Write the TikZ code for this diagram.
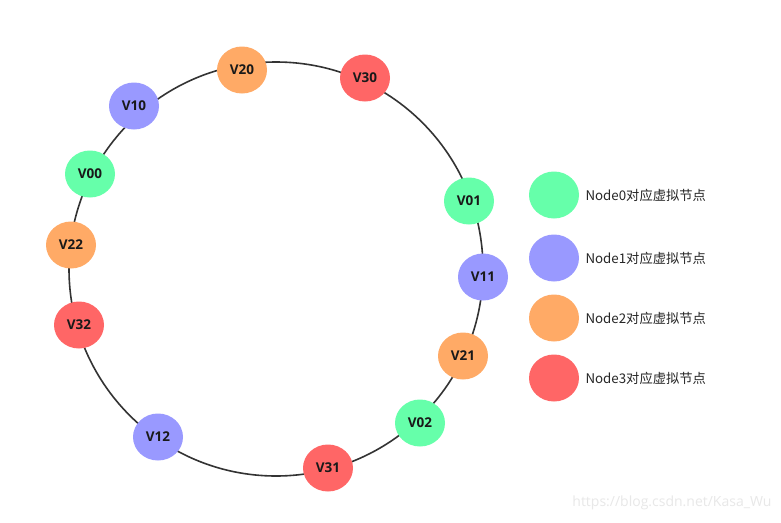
\documentclass[tikz,border=0pt]{standalone}
\usepackage{fontspec}
\setmainfont{Open Sans}
\newfontfamily\cjk{Noto Sans CJK SC}
\usepackage{tikz}
\usetikzlibrary{shapes.geometric}
\definecolor{VGreen}{RGB}{102,255,170}
\definecolor{VPurple}{RGB}{153,153,255}
\definecolor{VOrange}{RGB}{255,170,102}
\definecolor{VRed}{RGB}{255,102,102}
\definecolor{RingGray}{RGB}{51,51,51}
\definecolor{MarkGray}{RGB}{232,232,232}

\tikzset{
  vnode/.style={ellipse,minimum width=50pt,minimum height=47pt,inner sep=0pt,
    font=\fontsize{13.5}{13.5}\selectfont\bfseries,text=black!90},
  legtext/.style={anchor=west,font=\cjk\fontsize{13.3}{13.3}\selectfont,text=black!85}
}

\begin{document}
\begin{tikzpicture}[x=1pt,y=-1pt]
  \useasboundingbox (0,0) rectangle (781,522);
  \fill[white] (0,0) rectangle (781,522);

  % hash ring
  \coordinate (ring) at (276,269);
  \draw[RingGray,line width=1.6pt] (ring) circle[radius=207];

  % virtual nodes on the ring
  \foreach \x/\y/\nm/\col in {
    242/70/V20/VOrange,
    365/78/V30/VRed,
    134/106/V10/VPurple,
    90/174/V00/VGreen,
    71/245/V22/VOrange,
    79/325/V32/VRed,
    158/437/V12/VPurple,
    328/468/V31/VRed,
    420/423/V02/VGreen,
    463/356/V21/VOrange,
    483/277/V11/VPurple,
    469/201/V01/VGreen}{
    \node[vnode,fill=\col] (\nm) at (\x,\y) {\nm};
  }

  % legend
  \foreach \i/\col/\y in {0/VGreen/195,1/VPurple/258,2/VOrange/318,3/VRed/378}{
    \node[vnode,fill=\col] (leg\i) at (554,\y) {};
    \node[legtext] (legtext\i) at (582,\y) {Node\i 对应虚拟节点};
  }

  \node[anchor=south east,font=\fontsize{14}{14}\selectfont,text=MarkGray] (mark) at (775,513) {https://blog.csdn.net/Kasa\_Wu};
\end{tikzpicture}
\end{document}
